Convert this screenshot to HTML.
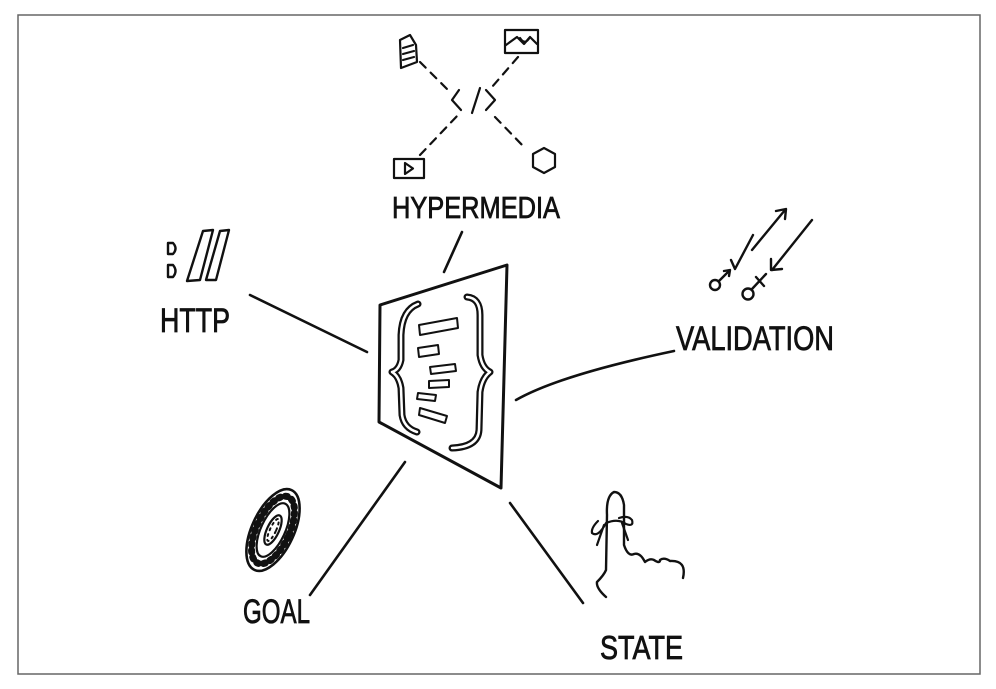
<!DOCTYPE html>
<html><head><meta charset="utf-8"><style>
html,body{margin:0;padding:0;background:#fff;width:996px;height:689px;overflow:hidden}
svg{display:block}
text{font-family:"Liberation Sans Narrow","Liberation Sans",sans-serif;font-weight:normal;fill:#111;stroke:#111;stroke-width:0.8}
</style></head><body>
<svg width="996" height="689" viewBox="0 0 996 689" xmlns="http://www.w3.org/2000/svg">
<rect x="18" y="15" width="962" height="659" fill="none" stroke="#666" stroke-width="1.5"/>
<g fill="none" stroke="#111" stroke-width="2.6" stroke-linecap="round" stroke-linejoin="round">
<line x1="462" y1="232" x2="444" y2="272"/>
<line x1="250" y1="295" x2="367" y2="352"/>
<path d="M516 400 Q560 375 674 351"/>
<line x1="405" y1="462" x2="310" y2="595"/>
<line x1="510" y1="503" x2="583" y2="603"/>
<path d="M380 305 L507 265 L501 488 L379 422 Z" stroke-width="3"/>
<path d="M418 304 Q402 310 401 335 L401 360 Q399 370 392 372 Q399 376 401 388 L402 415 Q404 428 417 432" stroke-width="7"/>
<path d="M418 304 Q402 310 401 335 L401 360 Q399 370 392 372 Q399 376 401 388 L402 415 Q404 428 417 432" stroke="#fff" stroke-width="2.5"/>
<path d="M467 297 Q480 298 480 315 L480 355 Q482 368 490 372 Q482 378 480 392 L479 430 Q478 447 452 448" stroke-width="7"/>
<path d="M467 297 Q480 298 480 315 L480 355 Q482 368 490 372 Q482 378 480 392 L479 430 Q478 447 452 448" stroke="#fff" stroke-width="2.5"/>
<g stroke-width="2">
<path d="M419 325 L457 318 L458 328 L420 335 Z"/>
<path d="M418 348 L438 345 L439 354 L419 357 Z"/>
<path d="M430 367 L455 364 L456 371 L431 374 Z"/>
<path d="M429 381 L449 380 L449 387 L429 388 Z"/>
<path d="M418 393 L436 395 L435 401 L417 399 Z"/>
<path d="M420 408 L447 416 L445 423 L419 415 Z"/>
</g>
<g stroke-width="2.2">
<path d="M400 40 L410 35 L416 45 L417 62 L401 68 Z"/>
<path d="M403 48 L413 45 M403 54 L414 51 M403 60 L414 57"/>
<rect x="505" y="30" width="33" height="23"/>
<path d="M506 45 L517 37 L524 44 L530 37 L537 44 M520 38 Q525 46 530 37"/>
<rect x="394" y="159" width="30" height="19"/>
<path d="M405 163 L405 174 L413 168.5 Z"/>
<path d="M544 148 L555 154 L555 167 L544 173 L533 167 L533 154 Z"/>
<path d="M459 90 L452 100 L461 110 M480 88 L472 113 M486 90 L495 100 L486 110"/>
</g>
<g stroke-width="2.2" stroke-dasharray="8 7">
<line x1="420" y1="62" x2="450" y2="92"/>
<line x1="518" y1="57" x2="492" y2="87"/>
<line x1="420" y1="155" x2="458" y2="115"/>
<line x1="495" y1="117" x2="525" y2="148"/>
</g>
<g stroke-width="2.4">
<path d="M168 243 L168 254 L173 254 Q178 248.5 173 243 Z"/>
<path d="M168 265 L168 277 L173 277 Q178 271 173 265 Z"/>
<path d="M203 231 L213 230 L200 280 L187 281 Z"/>
<path d="M220 231 L229 230 L216 280 L206 280 Z"/>
</g>
<g stroke-width="2.4">
<line x1="752" y1="250" x2="785" y2="210"/>
<path d="M776 211 L786 209 L785 219"/>
<line x1="812" y1="220" x2="772" y2="270"/>
<path d="M771 259 L771 270 L782 269"/>
<path d="M731 260 L735 269 L753 235"/>
<circle cx="715" cy="285" r="5"/>
<line x1="719" y1="281" x2="729" y2="271"/>
<path d="M724 271 L730 270 L729 276"/>
<circle cx="748" cy="294" r="5.5"/>
<line x1="752" y1="289" x2="766" y2="274"/>
<line x1="756" y1="277" x2="764" y2="286"/>
</g>
<g transform="rotate(25 273 530)">
<ellipse cx="273" cy="530" rx="21" ry="44" stroke-width="2.6"/>
<ellipse cx="273" cy="530" rx="12" ry="29" stroke-width="2.2"/>
<ellipse cx="273" cy="530" rx="6" ry="16" stroke-width="2.2"/>
<ellipse cx="273" cy="530" rx="16.5" ry="36.5" stroke-width="7" stroke-dasharray="2 5"/>
<ellipse cx="273" cy="530" rx="3" ry="12" stroke-width="2" stroke-dasharray="2 4"/>
</g>
<path d="M606 597 Q596 588 597 582 Q604 575 606 570 L607 515 Q606 496 614 492 Q622 492 624 505 L624 545 Q628 557 634 554 Q640 552 645 562 Q650 558 654 560 Q660 564 660 560 Q664 557 670 561 Q687 560 683 578" stroke-width="2.4"/>
<path d="M598 521 Q591 528 592 533 Q598 538 606 523 Q618 518 626 524 Q634 527 632 520 Q628 515 619 518 M604 525 L597 545 M622 523 L628 540" stroke-width="2.2"/>
</g>
<text x="392" y="218" font-size="31" textLength="168" lengthAdjust="spacingAndGlyphs">HYPERMEDIA</text>
<text x="160" y="332" font-size="34" textLength="70" lengthAdjust="spacingAndGlyphs">HTTP</text>
<text x="676" y="350" font-size="34" textLength="158" lengthAdjust="spacingAndGlyphs">VALIDATION</text>
<text x="243" y="623" font-size="34" textLength="67" lengthAdjust="spacingAndGlyphs">GOAL</text>
<text x="600" y="659" font-size="33" textLength="83" lengthAdjust="spacingAndGlyphs">STATE</text>
</svg>
</body></html>
